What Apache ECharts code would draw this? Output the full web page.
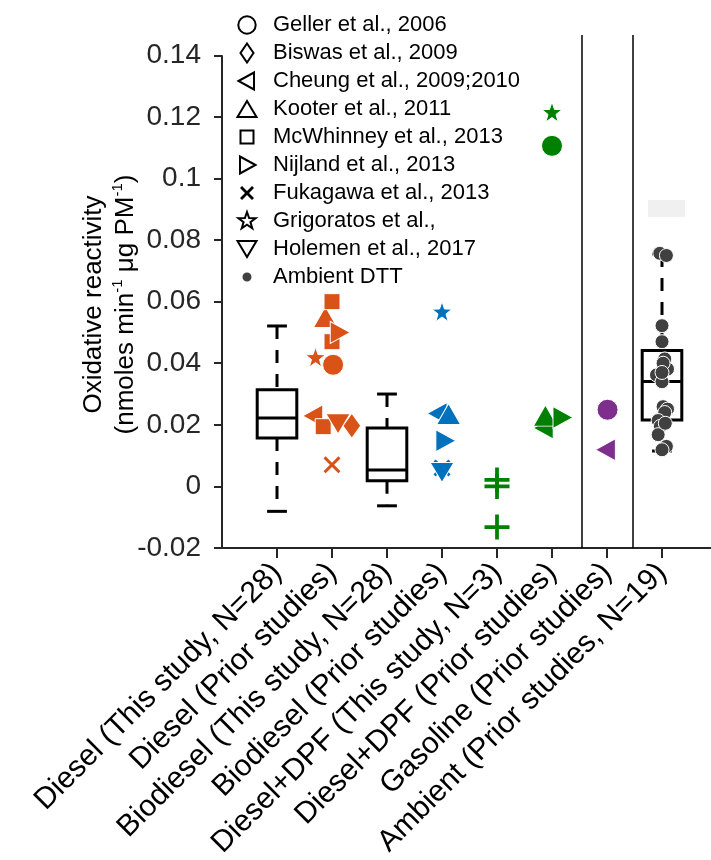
<!DOCTYPE html>
<html><head><meta charset="utf-8">
<script src="https://cdn.jsdelivr.net/npm/echarts@6/dist/echarts.min.js"></script>
<style>html,body{margin:0;padding:0;background:#fff}#c{width:711px;height:860px}</style>
</head><body><div id="c"></div>
<script>
// ---------- data ----------
const categories = ['Diesel (This study, N=28)', 'Diesel (Prior studies)', 'Biodiesel (This study, N=28)', 'Biodiesel (Prior studies)', 'Diesel+DPF (This study, N=3)', 'Diesel+DPF (Prior studies)', 'Gasoline (Prior studies)', 'Ambient (Prior studies, N=19)'];
const yTicks = [-0.02, 0, 0.02, 0.04, 0.06, 0.08, 0.1, 0.12, 0.14];
const yMin = -0.02, yMax = 0.1466, yAxisTop = 0.14;
const xMin = 0, xMax = 9;
const separators = [6.54, 7.46];

// box statistics: [min, Q1, median, Q3, max]
const boxCats = [1, 3, 8];
const boxStats = [
  [-0.0081, 0.0157, 0.0222, 0.0314, 0.0521],
  [-0.0063, 0.0018, 0.0053, 0.0190, 0.0300],
  [0.0115, 0.0216, 0.0341, 0.0441, 0.0755]
];
// faint patch above ambient box
const patchX = [7.745, 8.418];
const patchY = [0.0875, 0.093];

// Diesel+DPF (This study) points
const dpfThisVals = [0.0021, 0.0000, -0.0132];

// prior studies: category index, value, horizontal jitter
const gellerCat = [2, 6, 7],    gellerVal = [0.0395, 0.1106, 0.0249], gellerDx = [0.02, 0, 0.01];
const biswasCat = [2],          biswasVal = [0.0197],                 biswasDx = [0.36];
const cheungCat = [2, 4, 6, 7], cheungVal = [0.0229, 0.0237, 0.0190, 0.0119], cheungDx = [-0.35, -0.09, -0.16, -0.03];
const kooterCat = [2, 4, 6],    kooterVal = [0.0550, 0.0235, 0.0230], kooterDx = [-0.12, 0.12, -0.12];
const mcwCat = [2, 2, 2],       mcwVal = [0.0600, 0.0470, 0.0194],    mcwDx = [0, 0, -0.16];
const nijlandCat = [2, 4, 6],   nijlandVal = [0.0500, 0.0148, 0.0224], nijlandDx = [0.15, 0.07, 0.2];
const fukagawaCat = [2, 4],     fukagawaVal = [0.0070, 0.0060],       fukagawaDx = [0, 0];
const grigoratosCat = [2, 4, 6], grigoratosVal = [0.0420, 0.0568, 0.1216], grigoratosDx = [-0.3, 0, 0];
const holemenCat = [2, 4],      holemenVal = [0.0203, 0.0045],        holemenDx = [0.11, 0];
const ambientVal = [0.0757, 0.0750, 0.0522, 0.0470, 0.0414, 0.0381, 0.0362, 0.0400, 0.0340, 0.0259, 0.0251, 0.0240, 0.0214, 0.0195, 0.0168, 0.0130, 0.0119, 0.0205, 0.0370];
const ambientDx  = [-0.04, 0.08, 0, 0, 0.05, 0.1, -0.1, 0.02, 0, 0.02, 0.1, 0.05, -0.07, -0.03, -0.07, 0.08, 0, 0.06, 0];

// ---------- styles ----------
const FONT = '"Liberation Sans", Arial, Helvetica, sans-serif';
const AX = '#262626';
const catColor = {2: '#D95319', 4: '#0072BD', 5: '#008000', 6: '#008000', 7: '#7E2F8E', 8: '#404040'};
const SYM = {
  left: 'path://M0,10 L17,0 L17,20 Z',
  right: 'path://M17,10 L0,0 L0,20 Z',
  down: 'path://M0,0 L20,0 L10,17 Z',
  star: 'path://M10,0 L12.35,6.76 L19.51,6.91 L13.8,11.24 L15.88,18.09 L10,14 L4.12,18.09 L6.2,11.24 L0.49,6.91 L7.65,6.76 Z',
  x: 'path://M0,2.5 L2.5,0 L10,7.5 L17.5,0 L20,2.5 L12.5,10 L20,17.5 L17.5,20 L10,12.5 L2.5,20 L0,17.5 L7.5,10 Z',
  plus: 'path://M8.5,0 H11.5 V8.5 H20 V11.5 H11.5 V20 H8.5 V11.5 H0 V8.5 H8.5 Z'
};
// legend icons inside a fixed 20x20 frame (bare moveTo points fix the frame, nothing drawn)
const FR = 'M0,0 M20,20 ';
const LEG = {
  circle: 'path://' + FR + 'M10,1.3 A8.7,8.7 0 1 1 9.99,1.3 Z',
  diamond: 'path://' + FR + 'M10,0.5 L16.5,10 L10,19.5 L3.5,10 Z',
  left: 'path://' + FR + 'M1.5,10 L17,1.5 L17,18.5 Z',
  up: 'path://' + FR + 'M10,2 L19.5,18 L0.5,18 Z',
  rect: 'path://' + FR + 'M3.5,3.5 H16.5 V16.5 H3.5 Z',
  right: 'path://' + FR + 'M18.5,10 L3,1.5 L3,18.5 Z',
  x: 'path://' + FR + 'M3,5 L5,3 L10,8 L15,3 L17,5 L12,10 L17,15 L15,17 L10,12 L5,17 L3,15 L8,10 Z',
  star: 'path://' + FR + 'M10,1 L12.1,7.1 L18.6,7.2 L13.4,11.1 L15.3,17.3 L10,13.6 L4.7,17.3 L6.6,11.1 L1.4,7.2 L7.9,7.1 Z',
  down: 'path://' + FR + 'M0.5,2 L19.5,2 L10,18 Z',
  dot: 'path://' + FR + 'M10,5.5 A4.5,4.5 0 1 1 9.99,5.5 Z'
};

const studies = [
  {name: 'Geller et al., 2006', symbol: 'circle', size: 21, cats: gellerCat, vals: gellerVal, dx: gellerDx, icon: LEG.circle},
  {name: 'Biswas et al., 2009', symbol: 'diamond', size: [18, 25], cats: biswasCat, vals: biswasVal, dx: biswasDx, icon: LEG.diamond},
  {name: 'Cheung et al., 2009;2010', symbol: SYM.left, size: [20, 22], cats: cheungCat, vals: cheungVal, dx: cheungDx, icon: LEG.left},
  {name: 'Kooter et al., 2011', symbol: 'triangle', size: [24, 21], cats: kooterCat, vals: kooterVal, dx: kooterDx, icon: LEG.up},
  {name: 'McWhinney et al., 2013', symbol: 'rect', size: 16, cats: mcwCat, vals: mcwVal, dx: mcwDx, icon: LEG.rect},
  {name: 'Nijland et al., 2013', symbol: SYM.right, size: [20, 22], cats: nijlandCat, vals: nijlandVal, dx: nijlandDx, icon: LEG.right},
  {name: 'Fukagawa et al., 2013', symbol: SYM.x, size: 17, cats: fukagawaCat, vals: fukagawaVal, dx: fukagawaDx, solid: '#000', noEdge: true, icon: LEG.x},
  {name: 'Grigoratos et al.,', symbol: SYM.star, size: 20, cats: grigoratosCat, vals: grigoratosVal, dx: grigoratosDx, icon: LEG.star},
  {name: 'Holemen et al., 2017', symbol: SYM.down, size: [24, 20], cats: holemenCat, vals: holemenVal, dx: holemenDx, icon: LEG.down},
  {name: 'Ambient DTT', symbol: 'circle', size: 14, cats: ambientVal.map(() => 8), vals: ambientVal, dx: ambientDx, solid: '#404040', icon: LEG.dot}
];

function renderBox(params, api) {
  const x = api.value(0);
  const mn = api.value(1), q1 = api.value(2), md = api.value(3), q3 = api.value(4), mx = api.value(5);
  const unit = api.size([1, 0])[0];
  const hw = unit * 0.36, cw = unit * 0.18;
  const p = v => api.coord([x, v]);
  const cx = p(md)[0];
  const yMn = p(mn)[1], yQ1 = p(q1)[1], yMd = p(md)[1], yQ3 = p(q3)[1], yMx = p(mx)[1];
  const solid = {stroke: '#000', lineWidth: 3, fill: null};
  const dashed = {stroke: '#000', lineWidth: 3, lineDash: [13, 11], fill: null};
  return {type: 'group', children: [
    {type: 'line', shape: {x1: cx, y1: yMx, x2: cx, y2: yQ3}, style: dashed},
    {type: 'line', shape: {x1: cx, y1: yQ1, x2: cx, y2: yMn}, style: dashed},
    {type: 'line', shape: {x1: cx - cw, y1: yMx, x2: cx + cw, y2: yMx}, style: solid},
    {type: 'line', shape: {x1: cx - cw, y1: yMn, x2: cx + cw, y2: yMn}, style: solid},
    {type: 'rect', shape: {x: cx - hw, y: yQ3, width: 2 * hw, height: yQ1 - yQ3}, style: {stroke: '#000', lineWidth: 3, fill: 'rgba(0,0,0,0)'}},
    {type: 'line', shape: {x1: cx - hw, y1: yMd, x2: cx + hw, y2: yMd}, style: solid}
  ]};
}

const series = [];
series.push({
  type: 'custom', name: 'boxes', renderItem: renderBox, z: 2, silent: true,
  data: boxCats.map((c, i) => [c].concat(boxStats[i])),
  encode: {x: 0, y: [1, 2, 3, 4, 5]},
  markLine: {
    silent: true, symbol: 'none', animation: false, label: {show: false},
    data: separators.map(s => [{coord: [s, yMin], lineStyle: {color: '#000', width: 1.5, type: 'solid'}}, {coord: [s, yMax]}])
      .concat([[{coord: [xMin, yMin], lineStyle: {color: AX, width: 2, type: 'solid'}}, {coord: [xMin, yAxisTop]}]])
  },
  markArea: {
    silent: true, itemStyle: {color: '#f0f0f0'}, label: {show: false},
    data: [[{coord: [patchX[0], patchY[0]]}, {coord: [patchX[1], patchY[1]]}]]
  }
});
series.push({
  type: 'scatter', name: 'dpfThis', symbol: SYM.plus, symbolSize: 25, z: 5, silent: true,
  itemStyle: {color: catColor[5], opacity: 1},
  data: dpfThisVals.map(v => [5, v])
});
studies.forEach(s => {
  series.push({
    type: 'scatter', name: s.name, symbol: s.symbol, symbolSize: s.size, z: 6, silent: true,
    itemStyle: s.solid ? {color: s.solid, borderWidth: 0, opacity: 1} : {color: '#fff', borderColor: '#000', borderWidth: 1.3, opacity: 1},
    data: s.vals.map((v, i) => ({
      value: [s.cats[i] + s.dx[i], v],
      itemStyle: {color: catColor[s.cats[i]], borderColor: '#fff', borderWidth: s.noEdge ? 0 : 1, opacity: 1}
    }))
  });
});

const chart = echarts.init(document.getElementById('c'), null, {renderer: 'canvas'});
chart.setOption({
  animation: false,
  backgroundColor: '#fff',
  grid: {left: 222, top: 35, width: 495, bottom: 312, containLabel: false, outerBoundsMode: 'none'},
  legend: {
    orient: 'vertical', left: 231, top: 9, itemWidth: 20, itemHeight: 20, itemGap: 6,
    selectedMode: false,
    textStyle: {fontFamily: FONT, fontSize: 22, color: '#000', lineHeight: 22, padding: [0, 0, 0, 11]},
    data: studies.map(s => ({name: s.name, icon: s.icon}))
  },
  xAxis: {
    type: 'value', min: xMin, max: xMax,
    axisLine: {show: true, onZero: false, lineStyle: {color: AX, width: 2}},
    axisTick: {show: true, length: 10, inside: false, customValues: categories.map((c, i) => i + 1), lineStyle: {color: AX, width: 2}},
    axisLabel: {
      show: true, rotate: 45, margin: 20, fontFamily: FONT, fontSize: 30, color: '#000',
      customValues: categories.map((c, i) => i + 1),
      formatter: v => categories[Math.round(v) - 1] || ''
    },
    splitLine: {show: false}
  },
  yAxis: {
    type: 'value', min: yMin, max: yMax,
    axisLine: {show: false},
    axisTick: {show: true, length: 8, customValues: yTicks, lineStyle: {color: AX, width: 2}},
    axisLabel: {
      show: true, margin: 21, fontFamily: FONT, fontSize: 28, color: AX, customValues: yTicks,
      formatter: v => String(+(+v).toFixed(2))
    },
    splitLine: {show: false},
    name: 'Oxidative reactivity\n(nmoles min{sup|-1} μg PM{sup|-1})',
    nameLocation: 'middle', nameRotate: 90, nameGap: 80, nameMoveOverlap: false,
    nameTextStyle: {
      fontFamily: FONT, fontSize: 26, color: '#000', lineHeight: 32, padding: [0, 26, 0, 0],
      rich: {sup: {fontFamily: FONT, fontSize: 15, lineHeight: 18, verticalAlign: 'top', color: '#000'}}
    }
  },
  series: series
});
</script></body></html>
